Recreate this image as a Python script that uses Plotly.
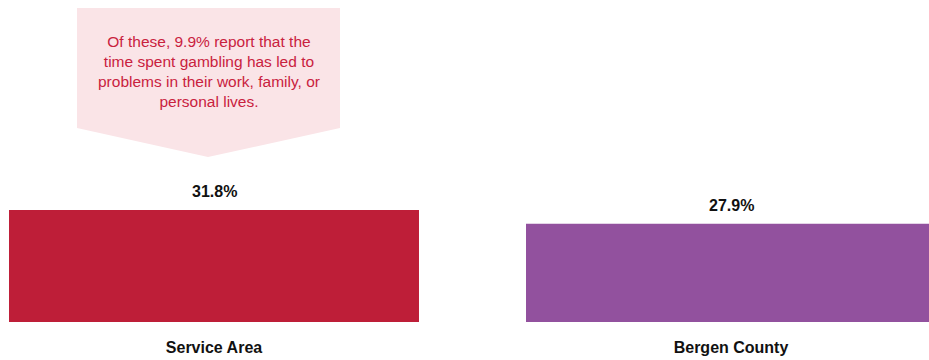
import plotly.graph_objects as go

categories = ["Service Area", "Bergen County"]
values = [31.8, 27.9]
value_labels = ["31.8%", "27.9%"]
bar_colors = ["#BE1E38", "#92519E"]
callout_text = "Of these, 9.9% report that the<br>time spent gambling has led to<br>problems in their work, family, or<br>personal lives."

W, H = 929, 360
plot_h = 322  # pixel height of plot area (margin b = 38)

def px_x(p):
    return p / W

def px_y(p):
    return 1 - p / plot_h

fig = go.Figure()
fig.add_trace(go.Bar(
    x=categories, y=values,
    marker=dict(color=bar_colors, line=dict(width=0)),
    width=0.793,
    hoverinfo="skip",
))

for c, v, t in zip(categories, values, value_labels):
    fig.add_annotation(x=c, y=v, text=t, showarrow=False, yanchor="bottom",
                       yshift=8, font=dict(family="Liberation Sans, Arial", size=16, color="#111111", weight="bold"))

# callout pentagon
pts = [(77, 8), (340, 8), (340, 128), (208, 157), (77, 128)]
path = "M " + " L ".join(f"{px_x(a):.4f},{px_y(b):.4f}" for a, b in pts) + " Z"
fig.add_shape(type="path", xref="paper", yref="paper", path=path,
              fillcolor="#FAE4E7", line=dict(width=0), layer="below")
fig.add_annotation(xref="paper", yref="paper", x=px_x(208.5), y=px_y(71),
                   text=callout_text, showarrow=False, align="center",
                   xanchor="center", yanchor="middle",
                   font=dict(family="Liberation Sans, Arial", size=15.5, color="#C9213E"))

fig.update_layout(
    width=W, height=H,
    margin=dict(l=0, r=0, t=0, b=38),
    paper_bgcolor="white", plot_bgcolor="white",
    showlegend=False,
    xaxis=dict(range=[-214 / 517, 1 + (929 - 731) / 517], showgrid=False, zeroline=False,
               showline=False, ticks="", ticklabelstandoff=14,
               tickfont=dict(family="Liberation Sans, Arial", size=16, color="#111111", weight="bold")),
    yaxis=dict(range=[0, plot_h / 3.52], visible=False, showgrid=False, zeroline=False),
)

fig.write_html("out.html", config={"displayModeBar": False},
               post_script="document.body.style.margin='0';document.body.style.overflow='hidden';")
